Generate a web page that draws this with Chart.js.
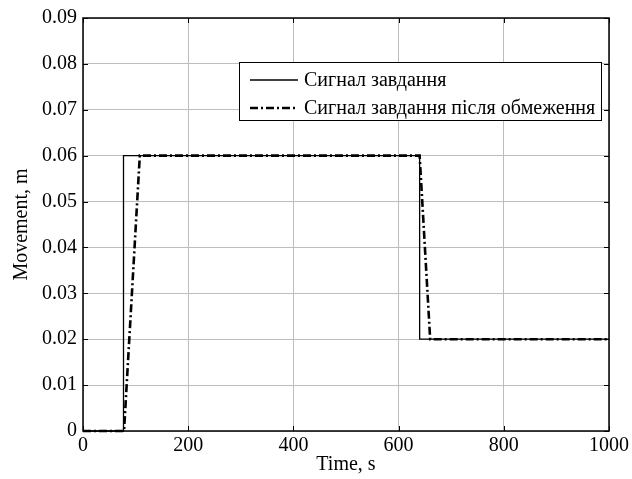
<!DOCTYPE html>
<html>
<head>
<meta charset="utf-8">
<script src="https://cdn.jsdelivr.net/npm/chart.js@4"></script>
<style>
  html, body { margin: 0; padding: 0; background: #fff; }
  #wrap { width: 632px; height: 479px; position: relative; }
</style>
</head>
<body>
<div id="wrap"><canvas id="myChart"></canvas></div>
<script>
// Data
const seriesNames = ["Сигнал завдання", "Сигнал завдання після обмеження"];
const refTime = [0, 77, 77, 640, 640, 1000];
const refValue = [0, 0, 0.06, 0.06, 0.02, 0.02];
const limTime = [0, 78, 108, 640, 660, 1000];
const limValue = [0, 0, 0.06, 0.06, 0.02, 0.02];
const xTicks = [0, 200, 400, 600, 800, 1000];
const yTicks = [0, 0.01, 0.02, 0.03, 0.04, 0.05, 0.06, 0.07, 0.08, 0.09];

const FONT = '"Liberation Serif", "Times New Roman", serif';
const toPoints = (xs, ys) => xs.map((x, i) => ({ x: x, y: ys[i] }));

// axis box, inward tick marks and the legend (MATLAB look)
const framePlugin = {
  id: "frame",
  afterDatasetsDraw(chart) {
    const ctx = chart.ctx;
    const a = chart.chartArea;
    const xs = chart.scales.x, ys = chart.scales.y;
    const tl = 5;
    ctx.save();
    ctx.strokeStyle = "#000";
    ctx.lineWidth = 1;
    ctx.beginPath();
    xTicks.forEach((v) => {
      const px = Math.round(xs.getPixelForValue(v)) + 0.5;
      ctx.moveTo(px, a.bottom); ctx.lineTo(px, a.bottom - tl);
      ctx.moveTo(px, a.top); ctx.lineTo(px, a.top + tl);
    });
    yTicks.forEach((v) => {
      const py = Math.round(ys.getPixelForValue(v)) + 0.5;
      ctx.moveTo(a.left, py); ctx.lineTo(a.left + tl, py);
      ctx.moveTo(a.right, py); ctx.lineTo(a.right - tl, py);
    });
    ctx.stroke();
    ctx.lineWidth = 1.5;
    ctx.strokeRect(a.left, a.top, a.right - a.left, a.bottom - a.top);

    // legend
    ctx.font = "20px " + FONT;
    const tw = Math.max(...seriesNames.map((n) => ctx.measureText(n).width));
    const boxL = Math.round(a.left + 156);
    const boxW = Math.round(11 + 48 + 6 + tw + 6);
    const boxH = 58;
    const boxT = 62;
    ctx.fillStyle = "#fff";
    ctx.fillRect(boxL, boxT, boxW, boxH);
    ctx.lineWidth = 1;
    ctx.strokeRect(boxL + 0.5, boxT + 0.5, boxW, boxH);
    chart.data.datasets.forEach((ds, i) => {
      const yRow = boxT + 18 + i * 28;
      ctx.beginPath();
      ctx.lineWidth = ds.borderWidth;
      ctx.setLineDash(ds.borderDash || []);
      ctx.moveTo(boxL + 11, yRow);
      ctx.lineTo(boxL + 59, yRow);
      ctx.stroke();
      ctx.setLineDash([]);
      ctx.fillStyle = "#000";
      ctx.textBaseline = "middle";
      ctx.textAlign = "left";
      ctx.fillText(ds.label, boxL + 65, yRow + 1);
    });
    ctx.restore();
  }
};

const ctx = document.getElementById("myChart");

new Chart(ctx, {
  type: "line",
  data: {
    datasets: [
      {
        label: seriesNames[0],
        data: toPoints(refTime, refValue),
        borderColor: "#000",
        borderWidth: 1.3,
        pointRadius: 0,
        tension: 0,
        fill: false,
        clip: 4,
      },
      {
        label: seriesNames[1],
        data: toPoints(limTime, limValue),
        borderColor: "#000",
        borderWidth: 2.6,
        borderDash: [8, 3, 2, 3],
        pointRadius: 0,
        tension: 0,
        fill: false,
        clip: 4,
      },
    ],
  },
  options: {
    responsive: true,
    maintainAspectRatio: false,
    animation: false,
    layout: { padding: { top: 17, right: 22, left: 0, bottom: 0 } },
    plugins: {
      legend: { display: false },
      tooltip: { enabled: false },
    },
    scales: {
      x: {
        type: "linear",
        min: 0,
        max: 1000,
        afterBuildTicks: (s) => { s.ticks = xTicks.map((v) => ({ value: v })); },
        afterFit: (s) => { s.height = 48; },
        ticks: {
          color: "#000",
          font: { family: FONT, size: 20 },
          padding: 3,
          maxRotation: 0,
          autoSkip: false,
          callback: (v) => String(v),
        },
        grid: { color: "#bdbdbd", lineWidth: 1, drawTicks: false },
        border: { display: false },
        title: {
          display: true,
          text: "Time, s",
          color: "#000",
          font: { family: FONT, size: 20 },
          padding: { top: 0, bottom: 2 },
        },
      },
      y: {
        type: "linear",
        min: 0,
        max: 0.09,
        afterBuildTicks: (s) => { s.ticks = yTicks.map((v) => ({ value: v })); },
        afterFit: (s) => { s.width = 83; },
        ticks: {
          color: "#000",
          font: { family: FONT, size: 20 },
          padding: 6,
          autoSkip: false,
          callback: (v) => (v === 0 ? "0" : v.toFixed(2)),
        },
        grid: { color: "#bdbdbd", lineWidth: 1, drawTicks: false },
        border: { display: false },
        title: {
          display: true,
          text: "Movement, m",
          color: "#000",
          font: { family: FONT, size: 20 },
          padding: { top: 10, bottom: 0 },
        },
      },
    },
  },
  plugins: [framePlugin],
});
</script>
</body>
</html>
